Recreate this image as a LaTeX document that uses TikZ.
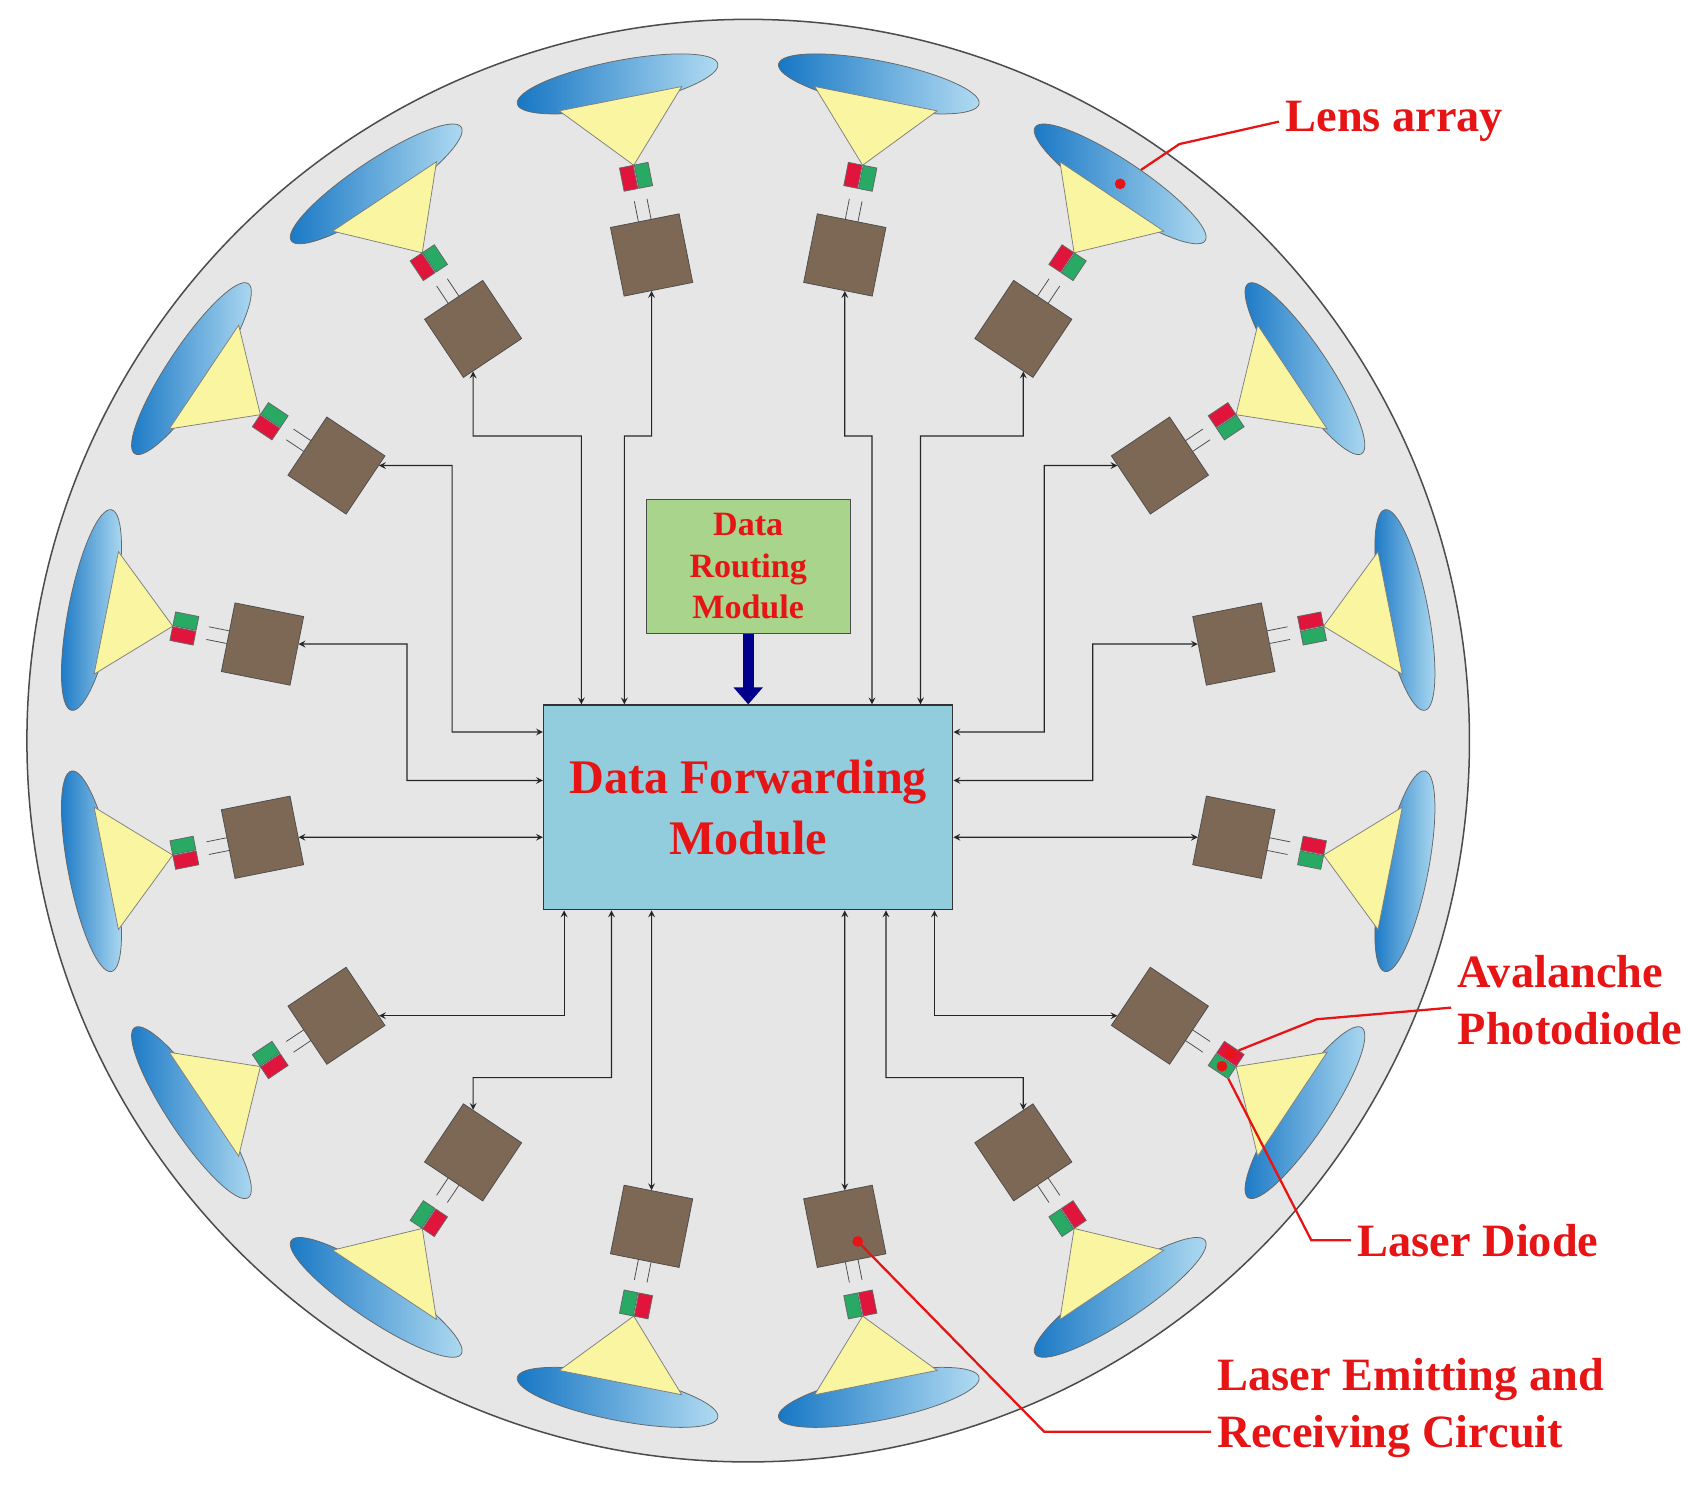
\documentclass[tikz,border=0pt]{standalone}
\usepackage{fontspec}
\setmainfont{Liberation Serif}
\usetikzlibrary{positioning}
\usetikzlibrary{calc}
\usetikzlibrary{shapes.geometric}
\usetikzlibrary{arrows}
\usetikzlibrary{arrows.meta}
\definecolor{disc colour}{RGB}{230,230,230}
\definecolor{unit colour}{RGB}{125,104,86}
\definecolor{forward colour}{RGB}{146,205,222}
\definecolor{routing colour}{RGB}{168,212,140}
\definecolor{lens dark}{RGB}{22,118,196}
\definecolor{lens light}{RGB}{178,220,242}
\definecolor{cone colour}{RGB}{250,245,160}
\definecolor{apd colour}{RGB}{225,20,60}
\definecolor{ld colour}{RGB}{40,170,100}
\definecolor{label colour}{RGB}{230,20,20}
\tikzset{
    % A small arrow suits the thin links
    >=stealth,
%
    % The repeated parts of each unit
    lens/.style={ellipse, draw=black!60, thin, minimum width=3.8cm, minimum height=0.85cm,
        inner sep=0, shading=axis, left color=lens dark, right color=lens light},
    cone/.style={fill=cone colour, draw=black!50, thin},
    unit/.style={draw=black!70, thin, fill=unit colour, minimum size=1.3cm, inner sep=0},
    diode/.style={draw=black!60, thin, minimum width=0.26cm, minimum height=0.44cm, inner sep=0},
    link/.style={draw=black!85, semithick, <->},
    callout/.style={draw=label colour, line width=1.2pt},
    tag/.style={text=label colour, font=\bfseries\fontsize{24.5}{30}\selectfont, align=left},
}

\begin{document}
\begin{tikzpicture}[x=0.02cm, y=0.02cm]
\useasboundingbox (0,0) rectangle (1568,1382);

% Carrier disc
\coordinate (c) at (695,694);
\draw[fill=disc colour, draw=black!70, thick] (c) circle (670);

% Central modules
\node (fwd) [draw=black!80, thick, fill=forward colour, minimum width=7.6cm, minimum height=3.8cm,
    text=label colour, font=\bfseries\fontsize{25.5}{32}\selectfont, align=center] at (695,632)
    {Data Forwarding\\Module};
\node (route) [draw=black!70, fill=routing colour, minimum width=3.8cm, minimum height=2.5cm,
    text=label colour, font=\bfseries\fontsize{18}{22}\selectfont, align=center] at (695,856)
    {Data\\Routing\\Module};
\draw[line width=6pt, draw=blue!55!black, -{Triangle[width=15pt,length=9pt]}]
    (route.south) -- (fwd.north);

% Sixteen transceiver units round the rim
\foreach \k in {0,...,15} {
    \pgfmathsetmacro{\a}{11.25+22.5*\k}
    \node[lens, rotate=\a-90] (lens\k) at ($(c)+(\a:622)$) {};
    \path[cone] ($(c)+(\a:608)+(\a+90:58)$) -- ($(c)+(\a:608)+(\a-90:58)$)
        -- ($(c)+(\a:545)$) -- cycle;
    \node[diode, fill=apd colour, rotate=\a-90] (apd\k) at ($(c)+(\a:534)+(\a+90:7)$) {};
    \node[diode, fill=ld colour, rotate=\a-90] (ld\k) at ($(c)+(\a:534)+(\a-90:7)$) {};
    \draw[black!70, thin] ($(c)+(\a:512)+(\a+90:6)$) -- ($(c)+(\a:492)+(\a+90:6)$)
        ($(c)+(\a:512)+(\a-90:6)$) -- ($(c)+(\a:492)+(\a-90:6)$);
    \node[unit, rotate=\a-90] (b\k) at ($(c)+(\a:460)$) {};
}

% Routing levels
\coordinate (top bus) at (0,977);
\coordinate (low bus) at (0,381);
\coordinate (west a) at (420,0);
\coordinate (west b) at (378,0);
\coordinate (east a) at (970,0);
\coordinate (east b) at (1015,0);

% Links from the units to the forwarding module
\draw[link] (b3) -- (b3 |- top bus) -| (fwd.north -| 810,0);
\draw[link] (b4) -- (b4 |- top bus) -| (fwd.north -| 580,0);
\draw[link] (b2) -- (b2 |- top bus) -| (fwd.north -| 855,0);
\draw[link] (b5) -- (b5 |- top bus) -| (fwd.north -| 540,0);
\draw[link] (b1) -- (b1 -| east a) |- (fwd.east |- 0,702);
\draw[link] (b6) -- (b6 -| west a) |- (fwd.west |- 0,702);
\draw[link] (b0) -- (b0 -| east b) |- (fwd.east |- 0,657);
\draw[link] (b7) -- (b7 -| west b) |- (fwd.west |- 0,657);
\draw[link] (b15) -- (fwd.east |- b15);
\draw[link] (b8) -- (fwd.west |- b8);
\draw[link] (b14) -| (fwd.south -| 868,0);
\draw[link] (b9) -| (fwd.south -| 524,0);
\draw[link] (b13) -- (b13 |- low bus) -| (fwd.south -| 823,0);
\draw[link] (b10) -- (b10 |- low bus) -| (fwd.south -| 568,0);
\draw[link] (b12) -- (fwd.south -| b12);
\draw[link] (b11) -- (fwd.south -| b11);

% Labels
\node[tag, anchor=west] (lens label) at (1188,1269) {Lens array};
\node[tag, anchor=west] (apd label) at (1348,453) {Avalanche\\Photodiode};
\node[tag, anchor=west] (ld label) at (1255,230) {Laser Diode};
\node[tag, anchor=west] (circuit label) at (1125,74) {Laser Emitting and\\Receiving Circuit};

\fill[label colour] (lens2) circle (5);
\draw[callout] (lens2) -- ++(55,37) -- (lens label.west);
\fill[label colour] (apd14) circle (5);
\draw[callout] (apd14) -- ++(80,32) -- (apd label.west |- 0,446);
\fill[label colour] (ld14) circle (5);
\draw[callout] (ld14) -- (1218,230) -- (ld label.west);
\coordinate (circuit dot) at ($(b12)+(12,-14)$);
\fill[label colour] (circuit dot) circle (5);
\draw[callout] (circuit dot) -- (970,52) -- (circuit label.west |- 0,52);

\end{tikzpicture}
\end{document}
